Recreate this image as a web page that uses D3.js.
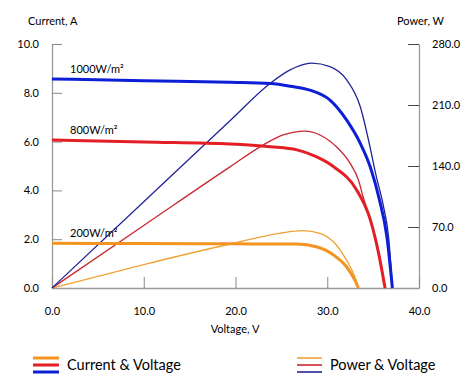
<!DOCTYPE html>
<html>
<head>
<meta charset="utf-8">
<script src="https://cdn.jsdelivr.net/npm/d3@7"></script>
<style>
  body { margin: 0; background: #fff; }
  svg text { font-family: Lato, "DejaVu Sans", sans-serif; fill: #000; }
</style>
</head>
<body>
<div id="chart"></div>
<script>
let width = 470;
let height = 386;

// [voltage V, current A]
let current1000 = [[0, 8.57], [10, 8.49], [19.4, 8.43], [23.8, 8.38], [26, 8.27], [28.1, 8.11], [30.3, 7.70],
    [32.1, 6.89], [33.6, 5.93], [34.7, 4.95], [35.7, 3.6], [36.5, 2.1], [37.1, 0]];
let current800 = [[0, 6.07], [10, 5.98], [19.4, 5.9], [23.8, 5.79], [26.7, 5.66], [28.8, 5.38], [30.7, 4.97],
    [33.2, 4.02], [34.7, 2.79], [35.6, 1.42], [36.3, 0]];
let current200 = [[0, 1.83], [10, 1.82], [20, 1.81], [26.7, 1.80], [28.8, 1.69], [30.7, 1.35], [32.1, 0.87],
    [33.0, 0.33], [33.4, 0]];

// [voltage V, power W]
let power1000 = [[0, 0], [10, 99], [19.4, 192], [23.8, 235], [25.9, 250], [28.3, 258], [30.3, 254], [32.1, 239],
    [33.6, 208], [34.7, 160], [35.3, 130], [36.1, 95], [36.7, 57], [37.1, 0]];
let power800 = [[0, 0], [10, 71.7], [19.4, 139], [23.0, 164], [25.2, 175.6], [27.6, 180], [29.2, 175.6], [31.0, 162],
    [32.5, 143], [33.4, 124], [33.9, 105], [34.8, 74], [35.7, 36], [36.3, 0]];
let power200 = [[0, 0], [10, 26.9], [19.4, 50.5], [24.8, 62.8], [27.4, 65.8], [29.2, 62.8], [31.0, 49.3], [32.1, 32],
    [33.0, 13], [33.4, 0]];

let irradiance = ["1000W/m²", "800W/m²", "200W/m²"];
let currentTicks = [0, 2, 4, 6, 8, 10];
let powerTicks = [0, 70, 140, 210, 280];
let voltageTicks = [0, 10, 20, 30, 40];

let thick = {"1000W/m²": "#0c1fd6", "800W/m²": "#e31e24", "200W/m²": "#f39422"};
let thin = {"1000W/m²": "#23239a", "800W/m²": "#c8282f", "200W/m²": "#f0a236"};

let svg = d3.select("#chart").append("svg")
    .attr("width", width)
    .attr("height", height);

let x = d3.scaleLinear().domain([0, 40]).range([52, 419]);
let yI = d3.scaleLinear().domain([0, 10]).range([288, 44]);
let yP = d3.scaleLinear().domain([0, 280]).range([288, 44]);

let fmt = d3.format(".1f");

function styleAxis(g) {
    g.select(".domain").attr("stroke", "#999").attr("stroke-width", 1.3);
    g.selectAll(".tick line").attr("stroke", "#888");
    g.selectAll(".tick text").style("font-size", "11px").attr("fill", "#000");
}

svg.append("g")
    .attr("transform", "translate(52,0)")
    .call(d3.axisLeft(yI).tickValues(currentTicks).tickFormat(fmt).tickSizeInner(-10).tickSizeOuter(0).tickPadding(13))
    .call(styleAxis);

svg.append("g")
    .attr("transform", "translate(419,0)")
    .call(d3.axisRight(yP).tickValues(powerTicks).tickFormat(fmt).tickSizeInner(-11).tickSizeOuter(0).tickPadding(13))
    .call(styleAxis)
    .call(g => g.selectAll(".tick line").attr("stroke", "#444"));

svg.append("g")
    .attr("transform", "translate(0,288)")
    .call(d3.axisBottom(x).tickValues(voltageTicks).tickFormat(fmt).tickSizeInner(-11).tickSizeOuter(0).tickPadding(19))
    .call(styleAxis);

// axis titles
svg.append("text").attr("x", 28).attr("y", 25).style("font-size", "11px").text("Current, A");
svg.append("text").attr("x", 397).attr("y", 25).style("font-size", "11px").text("Power, W");
svg.append("text").attr("x", 235).attr("y", 333).attr("text-anchor", "middle").style("font-size", "11px").text("Voltage, V");

let lineI = d3.line().x(d => x(d[0])).y(d => yI(d[1])).curve(d3.curveMonotoneX);
let lineP = d3.line().x(d => x(d[0])).y(d => yP(d[1])).curve(d3.curveMonotoneX);

let powerSeries = [[irradiance[2], power200], [irradiance[1], power800], [irradiance[0], power1000]];
let currentSeries = [[irradiance[2], current200], [irradiance[1], current800], [irradiance[0], current1000]];

svg.selectAll(".power")
    .data(powerSeries)
    .enter().append("path")
    .attr("class", "power")
    .attr("fill", "none")
    .attr("stroke", d => thin[d[0]])
    .attr("stroke-width", 1.3)
    .attr("d", d => lineP(d[1]));

svg.selectAll(".current")
    .data(currentSeries)
    .enter().append("path")
    .attr("class", "current")
    .attr("fill", "none")
    .attr("stroke", d => thick[d[0]])
    .attr("stroke-width", 3)
    .attr("d", d => lineI(d[1]));

// irradiance labels above each current curve
svg.selectAll(".irr")
    .data(currentSeries)
    .enter().append("text")
    .attr("class", "irr")
    .attr("x", 70)
    .attr("y", d => yI(d[1][0][1]) - 6)
    .style("font-size", "11px")
    .text(d => d[0]);

// legend
let legendOrder = [irradiance[2], irradiance[1], irradiance[0]];
let legend = [
    {label: "Current & Voltage", x0: 33, x1: 59, tx: 67, colors: thick, w: 3},
    {label: "Power & Voltage", x0: 297, x1: 322, tx: 330, colors: thin, w: 1.6}
];
legend.forEach(l => {
    legendOrder.forEach((k, i) => {
        svg.append("line")
            .attr("x1", l.x0).attr("x2", l.x1)
            .attr("y1", 358 + i * 7).attr("y2", 358 + i * 7)
            .attr("stroke", l.colors[k])
            .attr("stroke-width", l.w);
    });
    svg.append("text")
        .attr("x", l.tx)
        .attr("y", 370)
        .style("font-size", "14.5px")
        .text(l.label);
});
</script>
</body>
</html>
